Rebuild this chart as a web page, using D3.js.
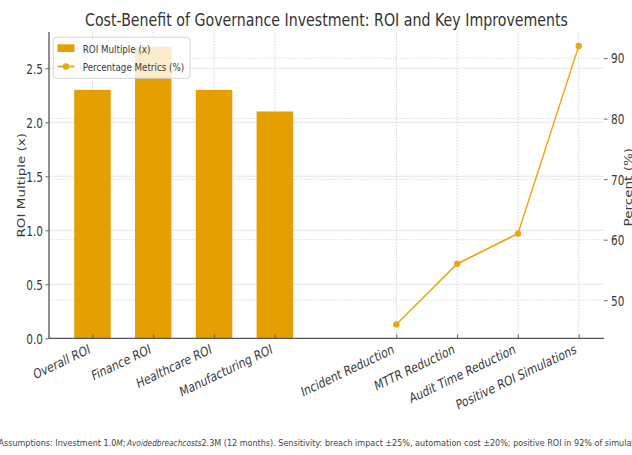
<!DOCTYPE html>
<html>
<head>
<meta charset="utf-8">
<script src="https://cdn.jsdelivr.net/npm/d3@7"></script>
<style>
  html, body { margin: 0; padding: 0; background: #fff; overflow: hidden; }
  svg { display: block; font-family: "DejaVu Sans", sans-serif; }
</style>
</head>
<body>
<svg id="chart"></svg>
<script>
// ---- data ----
const barCategories = ["Overall ROI", "Finance ROI", "Healthcare ROI", "Manufacturing ROI"];
const roiMultiples = [2.3, 2.7, 2.3, 2.1];
const metricCategories = ["Incident Reduction", "MTTR Reduction", "Audit Time Reduction", "Positive ROI Simulations"];
const metricPercents = [46, 56, 61, 92];
const roiTicks = [0, 0.5, 1.0, 1.5, 2.0, 2.5];
const percentTicks = [50, 60, 70, 80, 90];

const titleText = "Cost-Benefit of Governance Investment: ROI and Key Improvements";
const roiLabel = "ROI Multiple (x)";
const percentLabel = "Percent (%)";
const legendBar = "ROI Multiple (x)";
const legendLine = "Percentage Metrics (%)";

// ---- canvas: drawn in a wide frame, shown in a narrower window ----
const WIDTH = 632, HEIGHT = 455;
const SX = 0.78;                 // horizontal compression of the frame
const FW = WIDTH / SX;           // frame width
const fx = v => v / SX;          // window x -> frame x

const ORANGE = "#E69F00";
const LINE_ORANGE = "#EBA515";
const INK = "#3a3a3a";

const svg = d3.select("#chart")
  .attr("width", WIDTH).attr("height", HEIGHT)
  .attr("viewBox", `0 0 ${FW} ${HEIGHT}`)
  .attr("preserveAspectRatio", "none");

const plot = { left: fx(49), right: fx(604), top: 32.1, bottom: 338.3 };

// slot positions: bars first, one empty slot, then the metric points
const barWidth = 0.6;
const barSlots = barCategories.map((_, i) => i);
const metricSlots = metricCategories.map((_, i) => barCategories.length + 1 + i);
const slotLabels = new Map([
  ...barSlots.map((s, i) => [s, barCategories[i]]),
  ...metricSlots.map((s, i) => [s, metricCategories[i]])
]);
const lo = -barWidth / 2, hi = d3.max(metricSlots);
const xpad = 0.05 * (hi - lo);
const x = d3.scaleLinear().domain([lo - xpad, hi + xpad]).range([plot.left, plot.right]);

const yL = d3.scaleLinear().domain([0, d3.max(roiMultiples) * 1.05]).range([plot.bottom, plot.top]);
const pMin = d3.min(metricPercents), pMax = d3.max(metricPercents);
const ppad = 0.05 * (pMax - pMin);
const yR = d3.scaleLinear().domain([pMin - ppad, pMax + ppad]).range([plot.bottom, plot.top]);

// ---- grid ----
const grid = svg.append("g");
grid.selectAll("line.gl").data(roiTicks.filter(d => d > 0)).join("line")
  .attr("x1", plot.left).attr("x2", plot.right)
  .attr("y1", d => yL(d)).attr("y2", d => yL(d))
  .attr("stroke", "#e3e3e3").attr("stroke-width", 1);
grid.selectAll("line.gr").data(percentTicks).join("line")
  .attr("x1", plot.left).attr("x2", plot.right)
  .attr("y1", d => yR(d)).attr("y2", d => yR(d))
  .attr("stroke", "#d4d4d4").attr("stroke-width", 1)
  .attr("stroke-dasharray", "1.5,1.5");
grid.selectAll("line.gv").data([...barSlots, ...metricSlots]).join("line")
  .attr("x1", d => x(d)).attr("x2", d => x(d))
  .attr("y1", plot.top).attr("y2", plot.bottom)
  .attr("stroke", "#d4d4d4").attr("stroke-width", fx(1))
  .attr("stroke-dasharray", "1.5,1.5");

// ---- bars ----
svg.append("g").selectAll("rect").data(roiMultiples).join("rect")
  .attr("x", (d, i) => x(barSlots[i] - barWidth / 2))
  .attr("width", (d, i) => x(barSlots[i] + barWidth / 2) - x(barSlots[i] - barWidth / 2))
  .attr("y", d => yL(d))
  .attr("height", d => yL(0) - yL(d))
  .attr("fill", ORANGE);

// ---- line + markers ----
const pts = metricPercents.map((v, i) => [x(metricSlots[i]), yR(v)]);
svg.append("path")
  .attr("d", d3.line()(pts))
  .attr("fill", "none").attr("stroke", LINE_ORANGE).attr("stroke-width", 1.8);
svg.append("g").selectAll("ellipse").data(metricPercents).join("ellipse")
  .attr("cx", (d, i) => x(metricSlots[i]))
  .attr("cy", d => yR(d))
  .attr("rx", fx(3.2)).attr("ry", 3.2)
  .attr("fill", LINE_ORANGE);

// ---- axes ----
function styleAxis(g) {
  g.select(".domain").remove();
  g.selectAll("line").attr("stroke", "#555");
  g.selectAll("text").attr("fill", INK).attr("font-size", 13.5).attr("font-family", "DejaVu Sans");
}

// left
svg.append("g").attr("transform", `translate(${plot.left},0)`)
  .call(d3.axisLeft(yL).tickValues(roiTicks).tickFormat(d3.format(".1f"))
    .tickSize(fx(3.5)).tickPadding(fx(2.5)))
  .call(styleAxis)
  .call(g => g.selectAll("text").attr("dy", "0.36em"));

// right
svg.append("g").attr("transform", `translate(${plot.right},0)`)
  .call(d3.axisRight(yR).tickValues(percentTicks).tickFormat(d3.format("d"))
    .tickSize(fx(3.5)).tickPadding(fx(3.5)))
  .call(styleAxis)
  .call(g => g.selectAll("text").attr("dy", "0.36em"));

// bottom (ticks point inward)
svg.append("g").attr("transform", `translate(0,${plot.bottom})`)
  .call(d3.axisBottom(x).tickValues([...barSlots, ...metricSlots])
    .tickFormat(d => slotLabels.get(d)).tickSize(-4))
  .call(styleAxis)
  .call(g => g.selectAll("text")
    .attr("x", 0).attr("y", 0).attr("dy", 0)
    .attr("text-anchor", "end")
    .attr("transform", `translate(${-fx(2)},14.5) rotate(-20.5)`));

// spines
svg.append("line")
  .attr("x1", plot.left).attr("x2", plot.left)
  .attr("y1", plot.top).attr("y2", plot.bottom)
  .attr("stroke", "#555").attr("stroke-width", fx(1.3));
svg.append("line")
  .attr("x1", plot.left).attr("x2", plot.right)
  .attr("y1", plot.bottom).attr("y2", plot.bottom)
  .attr("stroke", "#555").attr("stroke-width", 1.3);

// axis labels
svg.append("text")
  .attr("transform", `translate(${fx(24.5)},${(plot.top + plot.bottom) / 2}) rotate(-90)`)
  .attr("text-anchor", "middle").attr("font-size", 13.5).attr("fill", INK)
  .text(roiLabel);
svg.append("text")
  .attr("transform", `translate(${fx(631.5)},${(plot.top + plot.bottom) / 2 + 2}) rotate(-90)`)
  .attr("text-anchor", "middle").attr("font-size", 13.5).attr("fill", INK)
  .text(percentLabel);

// title
svg.append("text")
  .attr("x", (plot.left + plot.right) / 2).attr("y", 26)
  .attr("text-anchor", "middle").attr("font-size", 18).attr("fill", "#333")
  .attr("textLength", fx(483)).attr("lengthAdjust", "spacingAndGlyphs")
  .text(titleText);

// ---- legend ----
const lg = svg.append("g");
lg.append("rect")
  .attr("x", fx(53.3)).attr("y", 37.3)
  .attr("width", fx(190 - 53.3)).attr("height", 41)
  .attr("rx", fx(3)).attr("ry", 3)
  .attr("fill", "#fff").attr("fill-opacity", 0.8)
  .attr("stroke", "#d0d0d0").attr("stroke-width", 1);
lg.append("rect")
  .attr("x", fx(57.5)).attr("y", 44.3)
  .attr("width", fx(17)).attr("height", 7.7)
  .attr("fill", ORANGE);
lg.append("line")
  .attr("x1", fx(57.5)).attr("x2", fx(74.5))
  .attr("y1", 66.5).attr("y2", 66.5)
  .attr("stroke", LINE_ORANGE).attr("stroke-width", 1.8);
lg.append("ellipse")
  .attr("cx", fx(66)).attr("cy", 66.5)
  .attr("rx", fx(3.2)).attr("ry", 3.2)
  .attr("fill", LINE_ORANGE);
lg.append("text").attr("x", fx(82.7)).attr("y", 53.3)
  .attr("font-size", 11.2).attr("fill", INK).text(legendBar);
lg.append("text").attr("x", fx(82.7)).attr("y", 70.6)
  .attr("font-size", 11.2).attr("fill", INK).text(legendLine);

// ---- footnote ----
const note = svg.append("text")
  .attr("x", fx(-1.5)).attr("y", 446)
  .attr("font-size", 9.6).attr("fill", "#444")
  .attr("textLength", fx(655)).attr("lengthAdjust", "spacingAndGlyphs");
note.append("tspan").text("Assumptions: Investment 1.0");
note.append("tspan").attr("font-style", "italic").attr("font-size", 8.8).text("M");
note.append("tspan").text(";\u2009");
note.append("tspan").attr("font-style", "italic").attr("font-size", 8.8).text("Avoidedbreachcosts");
note.append("tspan").text("2.3M (12 months). Sensitivity: breach impact \u00B125%, automation cost \u00B120%; positive ROI in 92% of simulations.");
</script>
</body>
</html>
